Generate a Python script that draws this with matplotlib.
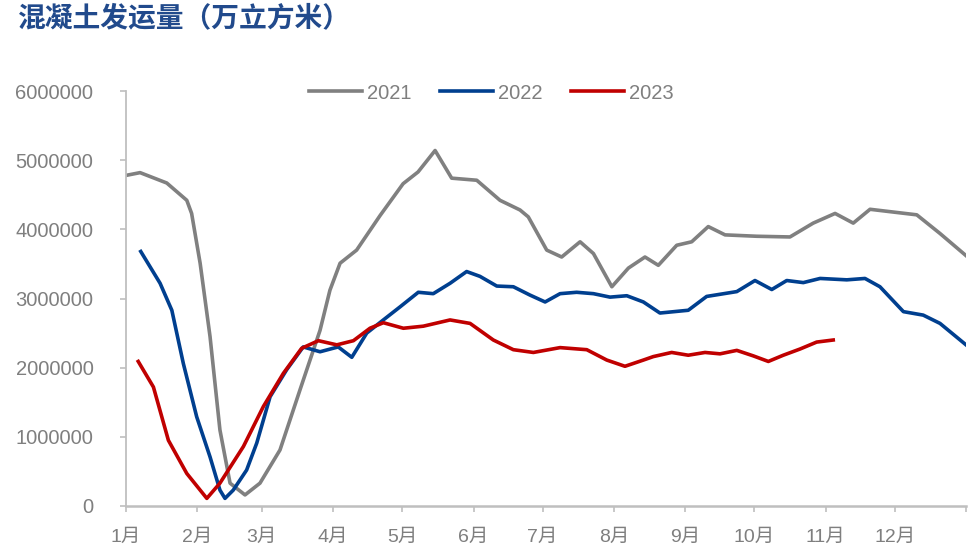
import matplotlib
matplotlib.use('Agg')
import matplotlib.pyplot as plt
import numpy as np

plt.rcParams['font.family'] = ['Liberation Sans', 'Noto Sans CJK SC', 'DejaVu Sans']

# 日序（1月1日 = 0）与发运量读数
day_2021 = [0, 6.1, 17.7, 26.4, 28.5, 32.2, 36.5, 40.8, 45.2, 51.7, 58.2, 66.9, 75.6, 84.3,
            88.6, 93.0, 100.2, 110.4, 120.4, 126.9, 134.3, 141.5, 152.4, 162.5, 171.2, 174.8,
            182.8, 189.3, 197.3, 203.1, 211.1, 218.3, 225.5, 231.3, 239.3, 245.8, 253.0, 260.3,
            274.1, 288.5, 298.6, 308.1, 316.0, 323.3, 333.4, 343.6, 353.7, 365]
val_2021 = [4780000, 4820000, 4670000, 4420000, 4230000, 3510000, 2450000, 1100000, 330000,
            160000, 330000, 810000, 1680000, 2540000, 3120000, 3510000, 3700000, 4200000,
            4660000, 4830000, 5140000, 4740000, 4710000, 4420000, 4280000, 4180000, 3700000,
            3600000, 3820000, 3650000, 3170000, 3440000, 3600000, 3480000, 3770000, 3820000,
            4040000, 3920000, 3900000, 3890000, 4090000, 4230000, 4090000, 4290000, 4250000,
            4210000, 3940000, 3620000]

day_2022 = [6.4, 14.8, 19.9, 24.9, 30.7, 36.5, 40.8, 43.0, 46.6, 52.4, 56.8, 62.6, 69.8, 77.0,
            84.3, 92.2, 98.1, 104.6, 111.8, 119.1, 127.0, 133.5, 140.8, 148.0, 153.8, 161.1,
            168.3, 175.5, 182.1, 188.6, 195.8, 203.1, 210.3, 217.6, 224.8, 232.0, 244.3, 252.3,
            265.4, 273.3, 280.6, 287.1, 294.3, 301.6, 313.2, 321.1, 327.6, 337.8, 346.4, 353.7, 365]
val_2022 = [3680000, 3220000, 2830000, 2060000, 1290000, 710000, 230000, 110000, 230000,
            520000, 910000, 1580000, 1970000, 2300000, 2230000, 2300000, 2150000, 2500000,
            2690000, 2880000, 3090000, 3070000, 3220000, 3390000, 3320000, 3180000, 3170000,
            3050000, 2950000, 3070000, 3090000, 3070000, 3020000, 3040000, 2950000, 2790000,
            2830000, 3030000, 3100000, 3260000, 3130000, 3260000, 3230000, 3290000, 3270000,
            3290000, 3170000, 2810000, 2760000, 2640000, 2330000]

day_2023 = [5.3, 11.9, 18.4, 26.4, 35.1, 40.8, 51.0, 59.7, 68.4, 76.3, 83.6, 91.6, 98.8, 106.0,
            111.8, 120.5, 129.2, 140.8, 149.5, 159.6, 168.3, 177.0, 188.6, 200.2, 208.9, 216.8,
            224.8, 229.1, 237.1, 244.3, 251.6, 258.1, 265.4, 272.6, 279.1, 285.6, 292.9, 300.1, 307.3]
val_2023 = [2090000, 1720000, 950000, 470000, 110000, 330000, 860000, 1440000, 1920000,
            2280000, 2390000, 2330000, 2390000, 2570000, 2650000, 2570000, 2600000, 2690000,
            2640000, 2400000, 2260000, 2220000, 2290000, 2260000, 2110000, 2020000, 2110000,
            2160000, 2220000, 2180000, 2220000, 2200000, 2250000, 2170000, 2090000, 2180000,
            2270000, 2370000, 2400000]

month_days = [31, 28, 31, 30, 31, 30, 31, 31, 30, 31, 30, 31]
month_labels = [f'{m}月' for m in range(1, 13)]

fig = plt.figure(figsize=(9.74, 5.55), dpi=100)
ax = fig.add_axes([0.1294, 0.0883, 0.8624, 0.7477])

ax.plot(day_2021, val_2021, color='#808080', lw=2.6, solid_joinstyle='round', label='2021')
ax.plot(day_2022, val_2022, color='#003f8f', lw=2.6, solid_joinstyle='round', label='2022')
ax.plot(day_2023, val_2023, color='#c00000', lw=2.6, solid_joinstyle='round', label='2023')

starts = np.concatenate([[0], np.cumsum(month_days)])
ax.set_xlim(0, 365)
ax.set_xticks(starts)
ax.set_xticklabels(month_labels + [''])
ax.set_ylim(0, 6000000)
ax.set_yticks(np.arange(0, 6000001, 1000000))
ax.set_yticklabels([str(v) for v in range(0, 6000001, 1000000)])

for s in ['top', 'right']:
    ax.spines[s].set_visible(False)
ax.spines['left'].set_color('#bfbfbf')
ax.spines['left'].set_linewidth(1.3)
ax.spines['bottom'].set_color('#bfbfbf')
ax.spines['bottom'].set_linewidth(1.8)

ax.tick_params(axis='y', colors='#bfbfbf', labelcolor='#7f7f7f', labelsize=14.5,
               length=4.5, width=1.2, pad=19)
ax.tick_params(axis='x', colors='#bfbfbf', labelcolor='#7f7f7f', labelsize=14,
               length=4.5, width=1.2, pad=12)

leg = fig.legend(loc='center', bbox_to_anchor=(0.5046, 0.8324), ncol=3, frameon=False,
                 fontsize=14.5, handlelength=2.65, handletextpad=0.25, columnspacing=1.4)
for t in leg.get_texts():
    t.set_color('#7f7f7f')

fig.text(0.018, 0.967, '混凝土发运量（万立方米）', fontsize=20, fontweight='bold',
         color='#214a8c', family=['Noto Sans CJK SC', 'DejaVu Sans'], va='center', ha='left')

fig.savefig('out.png', dpi=100)
